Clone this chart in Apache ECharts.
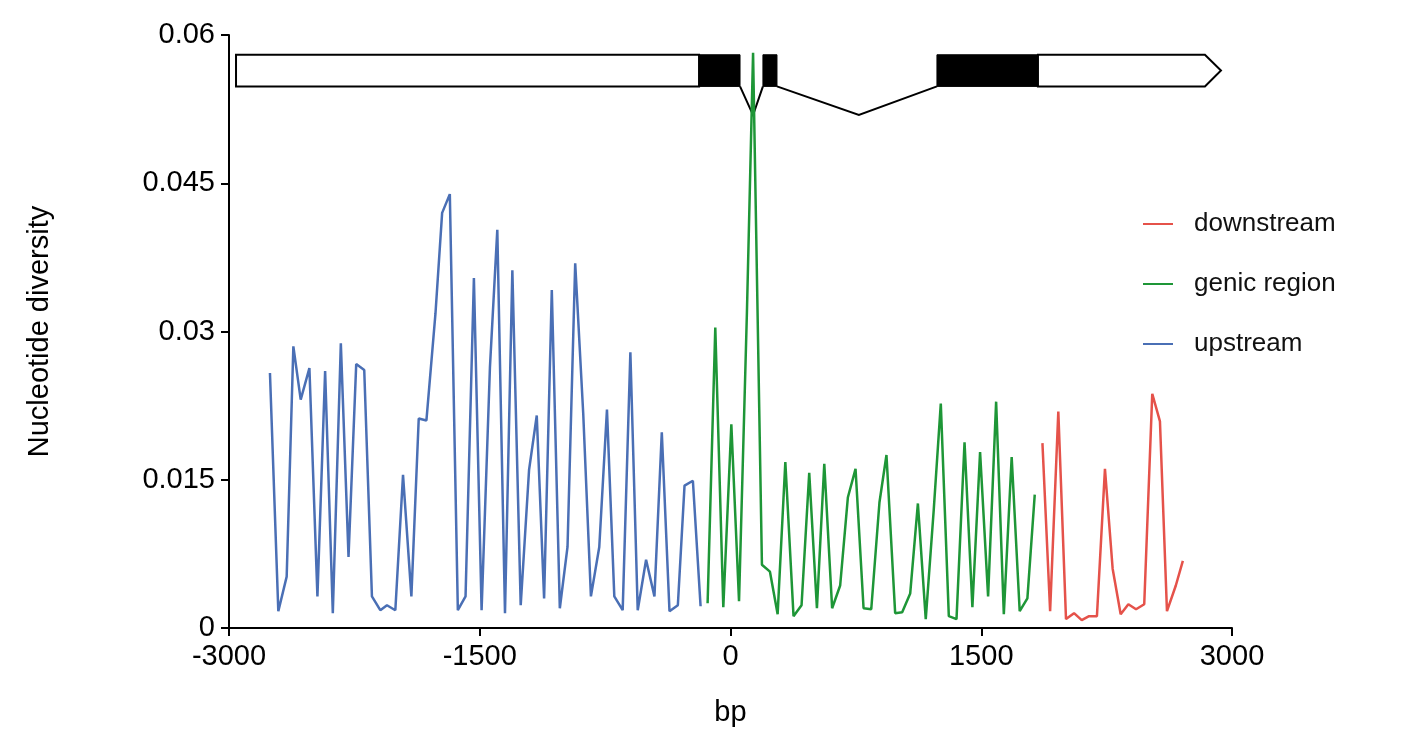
<!DOCTYPE html>
<html>
<head>
<meta charset="utf-8">
<script src="https://cdn.jsdelivr.net/npm/echarts@6/dist/echarts.min.js"></script>
<style>html,body{margin:0;padding:0;background:#fff}#chart{width:1411px;height:742px}</style>
</head>
<body>
<div id="chart"></div>
<script>
// upstream window positions (bp) and diversity
var upX = [-2755,-2705,-2655,-2615,-2571,-2519,-2471,-2425,-2379,-2331,-2285,-2239,-2191,-2145,-2095,-2055,-2005,-1959,-1909,-1865,-1819,-1765,-1725,-1679,-1631,-1585,-1535,-1489,-1439,-1395,-1349,-1305,-1255,-1205,-1159,-1115,-1069,-1021,-975,-929,-881,-835,-785,-739,-695,-645,-599,-555,-505,-455,-411,-365,-315,-275,-225,-179];
var upY = [0.0258,0.0017,0.0052,0.0285,0.0231,0.0263,0.0032,0.0260,0.0015,0.0288,0.0072,0.0267,0.0261,0.0032,0.0018,0.0023,0.0018,0.0155,0.0032,0.0212,0.0210,0.0318,0.0420,0.0439,0.0018,0.0032,0.0354,0.0018,0.0264,0.0403,0.0015,0.0362,0.0023,0.0160,0.0215,0.0030,0.0342,0.0020,0.0082,0.0369,0.0217,0.0032,0.0082,0.0221,0.0032,0.0018,0.0279,0.0018,0.0069,0.0032,0.0198,0.0017,0.0023,0.0144,0.0149,0.0022];

var genX = [-137,-91,-43,5,51,98,135,188,236,282,328,377,425,471,517,561,608,656,702,748,796,842,891,933,985,1027,1075,1121,1168,1216,1258,1306,1352,1400,1447,1493,1541,1589,1635,1682,1730,1776,1820];
var genY = [0.0025,0.0304,0.0021,0.0206,0.0027,0.0318,0.0582,0.0064,0.0057,0.0014,0.0168,0.0012,0.0023,0.0157,0.0020,0.0166,0.0020,0.0043,0.0132,0.0161,0.0020,0.0019,0.0127,0.0175,0.0015,0.0016,0.0035,0.0126,0.0009,0.0120,0.0227,0.0012,0.0009,0.0188,0.0021,0.0178,0.0032,0.0229,0.0014,0.0173,0.0017,0.0030,0.0135];

var downX = [1866,1912,1961,2007,2055,2101,2145,2192,2240,2286,2334,2380,2426,2475,2523,2569,2611,2664,2706];
var downY = [0.0187,0.0017,0.0219,0.0009,0.0015,0.0008,0.0012,0.0012,0.0161,0.0060,0.0014,0.0024,0.0019,0.0024,0.0237,0.0209,0.0017,0.0043,0.0068];

// gene model (bp)
var utrBoxes = [[-2958,-188],[1839,2838]];
var cdsBoxes = [[-188,57],[194,278],[1235,1839]];
var introns = [[57,135,194],[278,768,1235]];
var geneTip = 2934;

function pairs(xs, ys) {
    var out = [];
    for (var i = 0; i < xs.length; i++) out.push([xs[i], ys[i]]);
    return out;
}

var myChart = echarts.init(document.getElementById('chart'));
var font = 'Arial, "Liberation Sans", sans-serif';

function line(name, xs, ys, color) {
    return {
        name: name, type: 'line', data: pairs(xs, ys), showSymbol: false,
        lineStyle: { color: color, width: 2.5 }, itemStyle: { color: color }, z: 2
    };
}

var option = {
    animation: false,
    grid: { left: 229, right: 179, top: 35, bottom: 114 },
    legend: {
        orient: 'vertical', left: 1138, top: 206, itemGap: 34,
        itemWidth: 30, itemHeight: 2, icon: 'rect',
        textStyle: { fontFamily: font, fontSize: 26, color: '#111', padding: [0, 0, 0, 16] },
        data: ['downstream', 'genic region', 'upstream']
    },
    xAxis: {
        type: 'value', min: -3000, max: 3000, interval: 1500,
        name: 'bp', nameLocation: 'middle', nameGap: 70,
        nameTextStyle: { fontFamily: font, fontSize: 29, color: '#000' },
        axisLine: { lineStyle: { color: '#000', width: 2 } },
        axisTick: { lineStyle: { color: '#000', width: 2 }, length: 8 },
        axisLabel: { fontFamily: font, fontSize: 29, color: '#000', margin: 14,
            formatter: function (v) { return String(v); } },
        splitLine: { show: false }
    },
    yAxis: {
        type: 'value', min: 0, max: 0.06, interval: 0.015,
        name: 'Nucleotide diversity', nameLocation: 'middle', nameGap: 175,
        nameTextStyle: { fontFamily: font, fontSize: 29, color: '#000' },
        axisLine: { show: true, onZero: false, lineStyle: { color: '#000', width: 2 } },
        axisTick: { show: true, lineStyle: { color: '#000', width: 2 }, length: 8 },
        axisLabel: { fontFamily: font, fontSize: 29, color: '#000', margin: 14,
            formatter: function (v) { return v === 0 ? '0' : String(+v.toFixed(3)); } },
        splitLine: { show: false }
    },
    series: [
        line('downstream', downX, downY, '#e5524a'),
        line('genic region', genX, genY, '#1e9637'),
        line('upstream', upX, upY, '#4a6fb5')
    ]
};
myChart.setOption(option, true);

// gene structure drawn above the plot
var yTop = 0.0580, yBot = 0.0548, yIntron = 0.0519;
function px(x, y) { return myChart.convertToPixel({ gridIndex: 0 }, [x, y]); }
var g = [];
var last = utrBoxes[1];
var a = px(last[0], yTop), b = px(last[1], yBot), t = px(geneTip, (yTop + yBot) / 2);
g.push({ type: 'polygon', z: 1, shape: { points: [[a[0], a[1]], [b[0], a[1]], [t[0], t[1]], [b[0], b[1]], [a[0], b[1]]] },
    style: { fill: '#fff', stroke: '#000', lineWidth: 2 } });
var f = utrBoxes[0];
a = px(f[0], yTop); b = px(f[1], yBot);
g.push({ type: 'rect', z: 1, shape: { x: a[0], y: a[1], width: b[0] - a[0], height: b[1] - a[1] },
    style: { fill: '#fff', stroke: '#000', lineWidth: 2 } });
cdsBoxes.forEach(function (c) {
    var p = px(c[0], yTop), q = px(c[1], yBot);
    g.push({ type: 'rect', z: 1, shape: { x: p[0], y: p[1], width: q[0] - p[0], height: q[1] - p[1] },
        style: { fill: '#000', stroke: '#000', lineWidth: 1 } });
});
introns.forEach(function (n) {
    var p = px(n[0], yBot), m = px(n[1], yIntron), q = px(n[2], yBot);
    g.push({ type: 'polyline', z: 1, shape: { points: [p, m, q] }, style: { stroke: '#000', lineWidth: 2, fill: null } });
});
myChart.setOption({ graphic: g });
</script>
</body>
</html>
